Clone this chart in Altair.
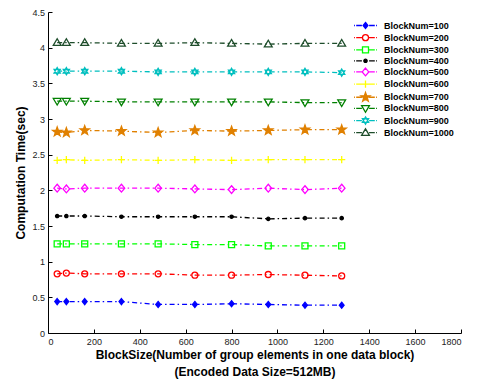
import altair as alt
import pandas as pd

block_sizes = [40, 80, 160, 320, 480, 640, 800, 960, 1120, 1280]
series_names = ["BlockNum=100", "BlockNum=200", "BlockNum=300", "BlockNum=400", "BlockNum=500",
                "BlockNum=600", "BlockNum=700", "BlockNum=800", "BlockNum=900", "BlockNum=1000"]
t100 = [0.44, 0.44, 0.44, 0.44, 0.40, 0.40, 0.41, 0.40, 0.39, 0.39]
t200 = [0.83, 0.84, 0.83, 0.83, 0.83, 0.81, 0.81, 0.82, 0.81, 0.80]
t300 = [1.25, 1.25, 1.25, 1.25, 1.25, 1.24, 1.24, 1.22, 1.22, 1.22]
t400 = [1.64, 1.64, 1.64, 1.63, 1.63, 1.63, 1.63, 1.60, 1.61, 1.61]
t500 = [2.03, 2.02, 2.03, 2.03, 2.03, 2.02, 2.01, 2.03, 2.01, 2.03]
t600 = [2.42, 2.43, 2.42, 2.43, 2.42, 2.43, 2.42, 2.43, 2.43, 2.43]
t700 = [2.82, 2.81, 2.84, 2.83, 2.81, 2.84, 2.83, 2.84, 2.85, 2.85]
t800 = [3.25, 3.25, 3.25, 3.24, 3.24, 3.24, 3.24, 3.24, 3.23, 3.23]
t900 = [3.67, 3.67, 3.67, 3.67, 3.66, 3.66, 3.66, 3.66, 3.66, 3.65]
t1000 = [4.07, 4.07, 4.07, 4.06, 4.06, 4.07, 4.06, 4.05, 4.06, 4.06]
all_series = [t100, t200, t300, t400, t500, t600, t700, t800, t900, t1000]

colors = ["#0000ff", "#ff0000", "#00ff00", "#000000", "#ff00ff",
          "#ffff00", "#e08000", "#008000", "#00bfbf", "#1e4d2b"]
fills = ["#0000ff", "transparent", "transparent", "#000000", "transparent",
         "transparent", "#e08000", "transparent", "transparent", "transparent"]
shapes = [
    "M0,-1L0.8,0L0,1L-0.8,0Z",
    "M1,0A1,1,0,1,1,-1,0A1,1,0,1,1,1,0Z",
    "M-1,-1H1V1H-1Z",
    "M0.55,0A0.55,0.55,0,1,1,-0.55,0A0.55,0.55,0,1,1,0.55,0Z",
    "M0,-1.3L1.1,0L0,1.3L-1.1,0Z",
    "M-1.2,0H1.2M0,-1.2V1.2",
    "M0,-1.6L0.382,-0.526L1.522,-0.494L0.618,0.201L0.94,1.294L0,0.65L-0.94,1.294L-0.618,0.201L-1.522,-0.494L-0.382,-0.526Z",
    "M-1.3,-0.9H1.3L0,1.3Z",
    "M0,-1.2L1.04,0.6H-1.04Z M0,1.2L1.04,-0.6H-1.04Z",
    "M-1.3,0.9H1.3L0,-1.3Z",
]
legend_line = " M-3.8,0H-3.5M-3.1,0H-1.2M1.2,0H3.1M3.5,0H3.8"
legend_shapes = [s + legend_line for s in shapes]

rows = []
for name, vals in zip(series_names, all_series):
    for x, v in zip(block_sizes, vals):
        rows.append({"series": name, "size": x, "time": v})
df = pd.DataFrame(rows)

FONT = "Liberation Sans"
x_title = ["BlockSize(Number of group elements in one data block)", "(Encoded Data Size=512MB)"]
x_ticks = list(range(0, 1801, 200))
y_ticks = [i * 0.5 for i in range(10)]

x_scale = alt.Scale(domain=[0, 1800], nice=False)
y_scale = alt.Scale(domain=[0, 4.5], nice=False)

legend = alt.Legend(
    title=None, orient="none", legendX=313, legendY=9,
    labelFont=FONT, labelFontSize=9, labelFontWeight="bold", labelColor="#000",
    symbolSize=36, symbolStrokeWidth=1.3, symbolOpacity=1, labelOffset=14, symbolOffset=0,
    rowPadding=-0.85, padding=0,
)

base = alt.Chart(df)

lines = base.mark_line(strokeWidth=1.3, strokeDash=[5, 3, 1.5, 3]).encode(
    x=alt.X("size:Q", scale=x_scale,
            axis=alt.Axis(title=x_title, values=x_ticks, format="d", tickSize=0,
                          labelPadding=4, titlePadding=3, titleLineHeight=17.5)),
    y=alt.Y("time:Q", scale=y_scale,
            axis=alt.Axis(title="Computation Time(sec)", values=y_ticks,
                          format="~g", tickSize=0, labelPadding=3.5, titlePadding=4)),
    color=alt.Color("series:N", sort=series_names,
                    scale=alt.Scale(domain=series_names, range=colors), legend=None),
    detail="series:N",
)

points = base.mark_point(size=36, strokeWidth=1.3, opacity=1).encode(
    x=alt.X("size:Q", scale=x_scale,
            axis=alt.Axis(orient="bottom", offset=-4, tickSize=4, labels=False, domain=False,
                          title=None, values=x_ticks)),
    y=alt.Y("time:Q", scale=y_scale,
            axis=alt.Axis(orient="left", offset=-4, tickSize=4, labels=False, domain=False,
                          title=None, values=y_ticks)),
    stroke=alt.Stroke("series:N", sort=series_names,
                      scale=alt.Scale(domain=series_names, range=colors), legend=None),
    shape=alt.Shape("series:N", sort=series_names,
                    scale=alt.Scale(domain=series_names, range=shapes), legend=None),
    fill=alt.Fill("series:N", sort=series_names,
                  scale=alt.Scale(domain=series_names, range=fills), legend=None),
)

legend_layer = base.transform_filter("false").mark_point(size=36, strokeWidth=1.3, opacity=1).encode(
    x=alt.X("size:Q", scale=x_scale, axis=None),
    y=alt.Y("time:Q", scale=y_scale, axis=None),
    stroke=alt.Stroke("series:N", sort=series_names,
                      scale=alt.Scale(domain=series_names, range=colors), legend=legend),
    shape=alt.Shape("series:N", sort=series_names,
                    scale=alt.Scale(domain=series_names, range=legend_shapes), legend=legend),
    fill=alt.Fill("series:N", sort=series_names,
                  scale=alt.Scale(domain=series_names, range=fills), legend=legend),
)

chart = alt.layer(lines, points, legend_layer).resolve_axis(
    x="independent", y="independent"
).resolve_scale(shape="independent", stroke="independent", fill="independent").properties(
    width=413, height=321,
    autosize=alt.AutoSizeParams(type="none"),
    padding={"left": 40, "top": 4, "right": 8, "bottom": 50},
).configure_view(stroke=None).configure_axis(
    labelFont=FONT, labelFontSize=9, labelColor="#222",
    titleFont=FONT, titleFontSize=12, titleFontWeight="bold", titleColor="#000",
    domainColor="#000", domainWidth=1, tickColor="#000", tickWidth=1, grid=False,
)

chart.save("out.html", embed_options={"renderer": "svg", "actions": False})
